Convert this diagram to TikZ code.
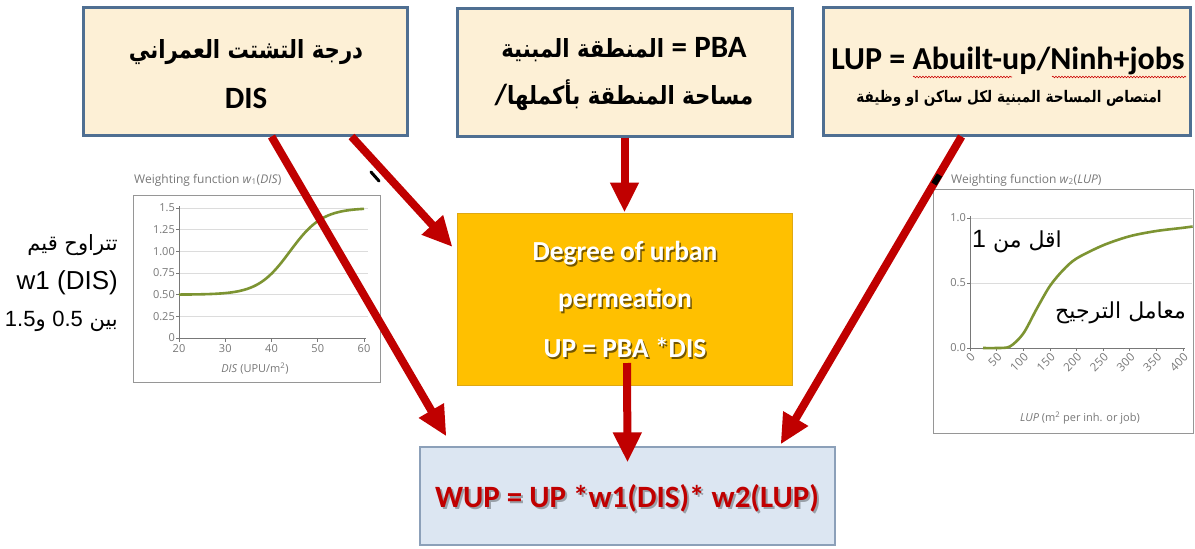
\documentclass[tikz,border=0pt]{standalone}
\usepackage{fontspec}
\setmainfont{Carlito}
\newfontfamily\arabicfont[Script=Arabic]{DejaVu Sans}
\newfontfamily\arabicnarrow[Script=Arabic,FakeStretch=0.85]{DejaVu Sans}
\newfontfamily\chartfont{Open Sans}
\newfontfamily\arialfont{Liberation Sans}
\newfontfamily\calibri{Carlito}
\TeXXeTstate=1
\usetikzlibrary{arrows.meta,decorations.pathmorphing,shadows}
\definecolor{cream}{RGB}{253,240,214}
\definecolor{boxblue}{RGB}{79,111,146}
\definecolor{orangebox}{RGB}{255,192,0}
\definecolor{orangeline}{RGB}{222,168,20}
\definecolor{paleblue}{RGB}{220,230,242}
\definecolor{paleblueline}{RGB}{140,160,185}
\definecolor{arrred}{RGB}{192,0,0}
\definecolor{curvegreen}{RGB}{125,148,50}
\definecolor{chartgray}{RGB}{120,120,120}
\definecolor{gridgray}{RGB}{220,220,220}
\definecolor{framegray}{RGB}{150,150,150}
\newcommand{\pxsize}[1]{\fontsize{#1}{#1}\selectfont}
\begin{document}
\begin{tikzpicture}[x=1pt,y=-1pt,
  topbox/.style={draw=boxblue,line width=3pt,fill=cream,minimum height=128pt,inner sep=0pt,
    drop shadow={shadow xshift=2pt,shadow yshift=-2pt,opacity=0.2}},
  arr/.style={draw=arrred,line width=8pt,-{Triangle[length=30pt,width=27pt]}},
  artxt/.style={font=\arabicnarrow\bfseries\pxsize{25}},
  uptxt/.style={font=\calibri\bfseries\pxsize{27.5},text=white},
  upshadow/.style={font=\calibri\bfseries\pxsize{27.5},text=black,opacity=0.55},
  wuptxt/.style={font=\calibri\bfseries\pxsize{31},text=arrred},
  wupshadow/.style={font=\calibri\bfseries\pxsize{31},text=black,opacity=0.3},
  ticklbl/.style={font=\chartfont\pxsize{11},text=chartgray,inner sep=1pt},
  rotlbl/.style={font=\chartfont\pxsize{11.5},text=chartgray,inner sep=0pt},
  charttitle/.style={font=\chartfont\pxsize{12},text=chartgray,inner sep=0pt},
  sidetxt/.style={font=\arialfont\pxsize{26},inner sep=0pt},
  sidear/.style={font=\arabicfont\pxsize{21},inner sep=0pt},
  chartar/.style={font=\arabicfont\pxsize{22},inner sep=0pt},
  waveline/.style={draw=red!80!black,line width=0.6pt,decorate,decoration={snake,amplitude=0.8pt,segment length=3pt}}
]
\fill[white] (0,0) rectangle (1195,549);
\useasboundingbox (0,0) rectangle (1195,549);

% ---------- top boxes ----------
\node[topbox,minimum width=324pt] (disbox) at (245,71) {};
\node[topbox,minimum width=335pt] (pbabox) at (624.5,72) {};
\node[topbox,minimum width=367pt] (lupbox) at (1006.5,71) {};

\node[artxt] (distitle) at (246,52) {\beginR درجة التشتت العمراني\endR};
\node[font=\calibri\bfseries\pxsize{31}] (dissym) at (246,98) {DIS};

\node[artxt] (pbaline1) at (624,50) {\beginR\beginL{\calibri\bfseries\pxsize{31}PBA}\endL{} {\calibri\bfseries\pxsize{31}=} المنطقة المبنية\endR};
\node[artxt] (pbaline2) at (624,95) {\beginR مساحة المنطقة بأكملها\beginL{\calibri\bfseries\pxsize{29}/}\endL\endR};

\node[font=\calibri\bfseries\pxsize{32}] (lupline1) at (1008,61) {LUP = Abuilt-up/Ninh+jobs};
\node[font=\arabicnarrow\bfseries\pxsize{16}] (lupline2) at (1009,98) {\beginR امتصاص المساحة المبنية لكل ساكن او وظيفة\endR};
\draw[waveline] (913,77) -- (1012,77);
\draw[waveline] (1052,77) -- (1186,77);

% ---------- middle box ----------
\node[draw=orangeline,line width=1pt,fill=orangebox,minimum width=335pt,minimum height=172pt,inner sep=0pt] (upbox) at (624.5,299) {};
\node[upshadow] (upsh1) at (626.5,255) {Degree of urban};
\node[uptxt] (uptx1) at (625,253) {Degree of urban};
\node[upshadow] (upsh2) at (626.5,302) {permeation};
\node[uptxt] (uptx2) at (625,300) {permeation};
\node[upshadow] (upsh3) at (626.5,350) {UP = PBA *DIS};
\node[uptxt] (uptx3) at (625,348) {UP = PBA *DIS};

% ---------- bottom box ----------
\node[draw=paleblueline,line width=1.2pt,fill=paleblue,minimum width=415pt,minimum height=98pt,inner sep=0pt] (wupbox) at (627.5,496) {};
\node[wupshadow] (wupsh) at (629,500) {WUP = UP *w1(DIS)* w2(LUP)};
\node[wuptxt] (wuptx) at (627,498) {WUP = UP *w1(DIS)* w2(LUP)};

% ---------- chart 1 ----------
\node[draw=framegray,fill=white,line width=0.8pt,minimum width=247pt,minimum height=187pt,inner sep=0pt] (chartone) at (256.5,288.5) {};
\node[charttitle,anchor=west] (chartonetitle) at (134,180) {Weighting function \textit{w}\textsubscript{1}(\textit{DIS})};
\foreach \v in {0.25,0.5,0.75,1,1.25,1.5}
  \draw[gridgray,line width=0.7pt] (179,{338-86.7*\v}) -- (368,{338-86.7*\v});
\draw[chartgray,line width=0.7pt] (179,206) -- (179,338) -- (366,338);
\foreach \v/\l in {0/0,0.25/0.25,0.5/0.50,0.75/0.75,1/1.00,1.25/1.25,1.5/1.5}{
  \draw[chartgray,line width=0.7pt] (176,{338-86.7*\v}) -- (179,{338-86.7*\v});
  \node[ticklbl,anchor=east] at (176,{338-86.7*\v}) {\l};
}
\foreach \d in {20,30,40,50,60}{
  \draw[chartgray,line width=0.7pt] ({179+(\d-20)*4.625},338) -- ({179+(\d-20)*4.625},342);
  \node[ticklbl,anchor=north] at ({179+(\d-20)*4.625},343) {\d};
}
\node[ticklbl] (chartonexlabel) at (255,369) {\textit{DIS} (UPU/m\textsuperscript{2})};
\draw[curvegreen,line width=2.6pt,domain=20:60,samples=80,smooth]
  plot ({179+(\x-20)*4.625},{338-86.7*(0.5+1/(1+exp(-(\x-44)/3.5)))});

% ---------- chart 2 ----------
\node[draw=framegray,fill=white,line width=0.8pt,minimum width=260pt,minimum height=244pt,inner sep=0pt] (charttwo) at (1063,311) {};
\node[charttitle,anchor=west] (charttwotitle) at (951,180) {Weighting function \textit{w}\textsubscript{2}(\textit{LUP})};
\draw[gridgray,line width=0.7pt] (970,283) -- (1192,283);
\draw[gridgray,line width=0.7pt] (970,218) -- (1192,218);
\draw[chartgray,line width=0.7pt] (970,216) -- (970,348) -- (1185,348);
\foreach \v/\l in {0/0.0,0.5/0.5,1/1.0}{
  \draw[chartgray,line width=0.7pt] (967,{348-130*\v}) -- (970,{348-130*\v});
  \node[ticklbl,anchor=east] at (967,{348-130*\v}) {\l};
}
\foreach \i in {0,...,8}{
  \pgfmathtruncatemacro{\lab}{50*\i}
  \draw[chartgray,line width=0.7pt] ({970+26.625*\i},348) -- ({970+26.625*\i},351);
  \node[rotlbl,anchor=east,rotate=45] at ({973+26.625*\i},355) {\lab};
}
\node[ticklbl] (charttwoxlabel) at (1080,418) {\textit{LUP} (m\textsuperscript{2} per inh. or job)};
\draw[curvegreen,line width=2.6pt,smooth] plot coordinates {(983,348) (996.6,348) (1009.9,346.5) (1023.3,333.5) (1036.6,309) (1049.9,286) (1063.2,270) (1076.5,258.5) (1103.1,245.3) (1129.8,236.2) (1156.4,231) (1183,227.8) (1192.6,226.5)};
\node[chartar] (lessone) at (1017,242) {\beginR اقل من \beginL{\arialfont\pxsize{25}1}\endL\endR};
\node[chartar,anchor=east] (weightcoef) at (1186,313) {\beginR معامل الترجيح\endR};

% ---------- side annotation ----------
\node[sidear,anchor=east] (sideone) at (118,245) {\beginR تتراوح قيم\endR};
\node[sidetxt,anchor=east] (sidetwo) at (118,283) {w1 (DIS)};
\node[sidear,anchor=east] (sidethree) at (118,321) {\beginR بين \beginL{\arialfont\pxsize{22}0.5}\endL{} و\beginL{\arialfont\pxsize{22}1.5}\endL\endR};

% ---------- small black marks ----------
\draw[black,line width=3pt,line cap=round] (371,172) -- (379,181);

% ---------- arrows ----------
\draw[arr] ([xshift=190pt]disbox.south west) -- ([xshift=27pt,yshift=10pt]wupbox.north west);
\draw[arr] ([xshift=270pt]disbox.south west) -- ([xshift=-4pt,yshift=52pt]upbox.west);
\draw[arr] (pbabox.south) -- (upbox.north);
\draw[arr] ([xshift=2.5pt,yshift=-64pt]upbox.center) -- ([yshift=-16pt]wupbox.north);
\draw[arr] ([xshift=140pt]lupbox.south west) -- ([xshift=-55pt,yshift=2pt]wupbox.north east);
\draw[black,line width=6pt] (939.5,175) -- (934,184);
\end{tikzpicture}
\end{document}
